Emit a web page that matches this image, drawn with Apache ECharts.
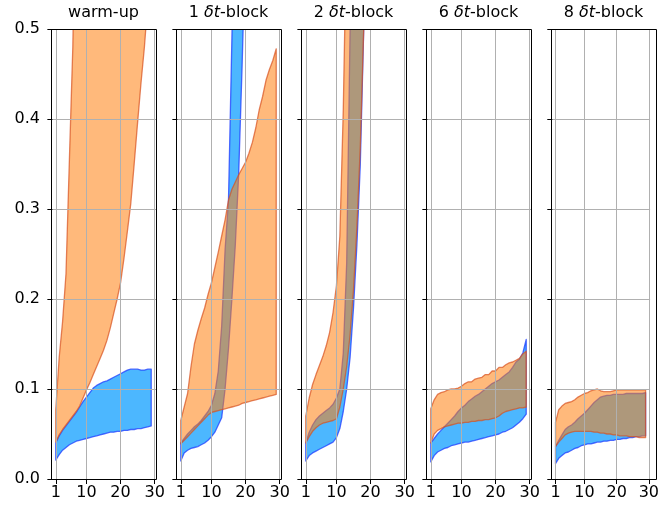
<!DOCTYPE html>
<html><head><meta charset="utf-8">
<script src="https://cdn.jsdelivr.net/npm/echarts@6/dist/echarts.min.js"></script>
<style>html,body{margin:0;padding:0;background:#fff}#c{width:662px;height:513px}</style>
</head><body><div id="c"></div>
<script>
const X = [1,2,3,4,5,6,7,8,9,10,11,12,13,14,15,16,17,18,19,20,21,22,23,24,25,26,27,28,29];
const X_TICKS = [1, 10, 20, 30];
const Y_TICKS_LABEL = ['0.0','0.1','0.2','0.3','0.4','0.5'];
const PANEL_NUM = ['', '1', '2', '6', '8'];

// warm-up
const blueLo1 = [0.021,0.027,0.032,0.035,0.038,0.040,0.042,0.043,0.044,0.045,0.046,0.047,0.048,0.049,0.050,0.051,0.052,0.052,0.053,0.053,0.054,0.054,0.055,0.055,0.056,0.056,0.057,0.058,0.059];
const blueHi1 = [0.040,0.048,0.054,0.059,0.064,0.069,0.074,0.080,0.086,0.091,0.096,0.101,0.104,0.106,0.108,0.109,0.111,0.113,0.115,0.117,0.119,0.121,0.122,0.122,0.122,0.121,0.121,0.122,0.122];
const orangeLo1 = [0.041,0.049,0.055,0.060,0.065,0.070,0.075,0.081,0.090,0.099,0.107,0.116,0.125,0.134,0.143,0.154,0.168,0.184,0.200,0.218,0.245,0.275,0.306,0.350,0.396,0.440,0.480,0.530,0.580];
const orangeHi1 = [0.077,0.135,0.175,0.228,0.355,0.480,0.710,0.950,1.20,1.48,1.75,2.05,2.36,2.70,3.02,3.35,3.70,4.02,4.40,4.75,5.10,5.50,5.85,6.20,6.60,7.00,7.40,7.80,8.20];
// 1 dt-block
const blueLo2 = [0.020,0.029,0.032,0.034,0.035,0.036,0.038,0.040,0.043,0.047,0.052,0.060,0.068,0.100,0.145,0.200,0.260,0.340,0.460,0.600,0.800,1.00,1.20,1.40,1.65,1.90,2.10,2.35,2.60];
const blueHi2 = [0.040,0.045,0.050,0.054,0.058,0.061,0.065,0.070,0.075,0.082,0.095,0.120,0.170,0.255,0.310,0.490,0.700,1.00,1.40,1.80,2.20,2.60,3.00,3.40,3.80,4.20,4.60,5.00,5.40];
const orangeLo2 = [0.039,0.043,0.047,0.051,0.055,0.059,0.063,0.067,0.071,0.074,0.075,0.076,0.077,0.078,0.079,0.080,0.081,0.082,0.084,0.085,0.086,0.087,0.088,0.089,0.090,0.091,0.092,0.093,0.094];
const orangeHi2 = [0.065,0.080,0.095,0.125,0.150,0.165,0.178,0.190,0.205,0.218,0.235,0.252,0.270,0.288,0.310,0.322,0.330,0.338,0.345,0.352,0.362,0.374,0.390,0.410,0.425,0.443,0.455,0.465,0.478];
// 2 dt-block
const blueLo3 = [0.020,0.026,0.029,0.031,0.033,0.035,0.037,0.039,0.041,0.046,0.056,0.075,0.100,0.135,0.190,0.260,0.350,0.500,0.680,0.900,1.10,1.30,1.50,1.70,1.90,2.10,2.30,2.50,2.70];
const blueHi3 = [0.040,0.052,0.060,0.066,0.070,0.073,0.076,0.079,0.083,0.090,0.100,0.140,0.240,0.500,0.800,1.10,1.40,1.70,2.00,2.30,2.60,2.90,3.20,3.50,3.80,4.10,4.40,4.70,5.00];
const orangeLo3 = [0.040,0.047,0.053,0.057,0.060,0.062,0.063,0.064,0.065,0.067,0.080,0.100,0.125,0.160,0.210,0.280,0.370,0.500,0.650,0.850,1.05,1.25,1.45,1.65,1.85,2.05,2.25,2.45,2.65];
const orangeHi3 = [0.070,0.090,0.105,0.116,0.126,0.136,0.148,0.163,0.185,0.215,0.270,0.410,0.620,0.900,1.20,1.50,1.80,2.10,2.40,2.70,3.00,3.30,3.60,3.90,4.20,4.50,4.80,5.10,5.40];
// 6 dt-block
const blueLo4 = [0.019,0.026,0.030,0.032,0.034,0.035,0.037,0.038,0.039,0.040,0.041,0.041,0.042,0.043,0.044,0.045,0.046,0.047,0.048,0.049,0.050,0.052,0.053,0.055,0.057,0.060,0.063,0.067,0.072];
const blueHi4 = [0.040,0.045,0.050,0.054,0.058,0.062,0.066,0.070,0.075,0.079,0.082,0.086,0.089,0.092,0.094,0.097,0.100,0.103,0.106,0.108,0.110,0.113,0.116,0.119,0.124,0.130,0.133,0.140,0.155];
const orangeLo4 = [0.040,0.050,0.054,0.056,0.058,0.059,0.060,0.061,0.062,0.062,0.063,0.063,0.064,0.064,0.065,0.065,0.066,0.066,0.067,0.068,0.070,0.073,0.075,0.076,0.077,0.078,0.079,0.079,0.080];
const orangeHi4 = [0.078,0.088,0.094,0.096,0.097,0.099,0.100,0.100,0.101,0.103,0.106,0.108,0.108,0.111,0.112,0.113,0.116,0.116,0.120,0.120,0.124,0.124,0.127,0.129,0.130,0.132,0.134,0.139,0.142];
// 8 dt-block
const blueLo5 = [0.017,0.023,0.026,0.029,0.030,0.032,0.034,0.035,0.037,0.038,0.039,0.039,0.040,0.041,0.041,0.042,0.042,0.043,0.043,0.044,0.044,0.045,0.045,0.046,0.046,0.047,0.047,0.048,0.048];
const blueHi5 = [0.036,0.043,0.049,0.055,0.058,0.060,0.063,0.067,0.070,0.073,0.077,0.081,0.085,0.088,0.091,0.092,0.093,0.093,0.094,0.094,0.094,0.094,0.095,0.095,0.095,0.095,0.095,0.095,0.096];
const orangeLo5 = [0.036,0.041,0.045,0.049,0.051,0.052,0.053,0.053,0.053,0.053,0.053,0.053,0.052,0.052,0.051,0.051,0.050,0.050,0.049,0.049,0.048,0.048,0.048,0.047,0.047,0.047,0.046,0.046,0.046];
const orangeHi5 = [0.063,0.077,0.081,0.084,0.085,0.086,0.088,0.091,0.093,0.095,0.096,0.098,0.099,0.100,0.098,0.097,0.097,0.097,0.098,0.099,0.099,0.099,0.099,0.099,0.099,0.099,0.099,0.099,0.099];

const BLUE = [[blueLo1,blueHi1],[blueLo2,blueHi2],[blueLo3,blueHi3],[blueLo4,blueHi4],[blueLo5,blueHi5]];
const ORANGE = [[orangeLo1,orangeHi1],[orangeLo2,orangeHi2],[orangeLo3,orangeHi3],[orangeLo4,orangeHi4],[orangeLo5,orangeHi5]];

const GL = 51, GS = 125, GW = 105, GT = 29, GH = 450;
const FONT = 'DejaVu Sans';

function band(gi, lo, hi, fill, stroke) {
  return {
    type: 'custom', xAxisIndex: gi, yAxisIndex: gi, clip: true, silent: true,
    data: X.map((x, k) => [x, lo[k], hi[k]]),
    encode: { x: 0, y: [1, 2] },
    renderItem: function (params, api) {
      if (params.dataIndex !== 0) return null;
      const pts = [];
      for (let k = 0; k < X.length; k++) pts.push(api.coord([X[k], hi[k]]));
      for (let k = X.length - 1; k >= 0; k--) pts.push(api.coord([X[k], lo[k]]));
      return { type: 'polygon', shape: { points: pts }, style: { fill: fill, stroke: stroke, lineWidth: 1.3, lineJoin: 'round' } };
    }
  };
}

const grids = [], xAxes = [], yAxes = [], series = [], graphics = [];
for (let i = 0; i < 5; i++) {
  const left = GL + i * GS;
  grids.push({ left: left, top: GT, width: GW, height: GH });
  xAxes.push({
    type: 'value', gridIndex: i, min: -0.4, max: 30.4, z: 5,
    axisLine: { show: false },
    axisTick: { show: true, customValues: X_TICKS, length: 5, lineStyle: { color: '#000' } },
    axisLabel: { show: true, customValues: X_TICKS, margin: 6, color: '#000', fontSize: 16, fontFamily: FONT },
    splitLine: { show: true, lineStyle: { color: '#b0b0b0', width: 1 } }
  });
  yAxes.push({
    type: 'value', gridIndex: i, min: 0, max: 0.5, interval: 0.1, z: 5,
    axisLine: { show: false },
    axisTick: { show: true, length: 5, lineStyle: { color: '#000' } },
    axisLabel: { show: i === 0, margin: 11, color: '#000', fontSize: 16, fontFamily: FONT,
      formatter: function (v) { return Y_TICKS_LABEL[Math.round(v * 10)]; } },
    splitLine: { show: true, lineStyle: { color: '#b0b0b0', width: 1 } }
  });
  series.push(band(i, BLUE[i][0], BLUE[i][1], 'rgba(0,153,255,0.7)', 'rgba(30,60,255,0.75)'));
  series.push(band(i, ORANGE[i][0], ORANGE[i][1], 'rgba(255,127,14,0.55)', 'rgba(215,80,30,0.7)'));
  graphics.push({ type: 'rect', z: 100, silent: true,
    shape: { x: left + 0.5, y: GT + 0.5, width: GW, height: GH },
    style: { fill: null, stroke: '#000', lineWidth: 1 } });
  const txt = i === 0 ? 'warm-up' : PANEL_NUM[i] + ' {i|δt}-block';
  graphics.push({ type: 'text', z: 100, silent: true, x: left + GW / 2, y: 13,
    style: { text: txt, align: 'center', verticalAlign: 'middle', fill: '#000',
      fontSize: 16, fontFamily: FONT,
      rich: { i: { fontStyle: 'italic', fontSize: 16, fontFamily: FONT, fill: '#000' } } } });
}

const chart = echarts.init(document.getElementById('c'));
chart.setOption({
  animation: false,
  backgroundColor: '#fff',
  grid: grids, xAxis: xAxes, yAxis: yAxes, series: series, graphic: graphics
});
</script></body></html>
